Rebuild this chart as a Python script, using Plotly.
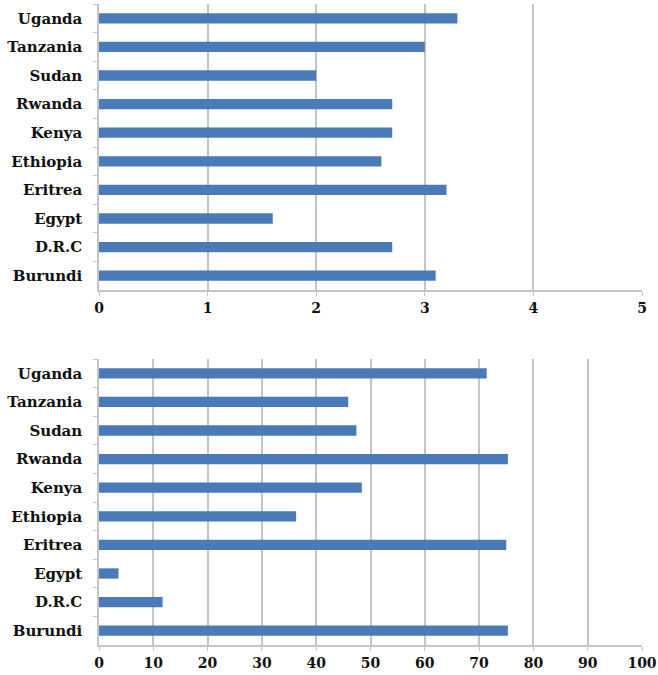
import plotly.graph_objects as go
from plotly.subplots import make_subplots

countries = ["Uganda", "Tanzania", "Sudan", "Rwanda", "Kenya",
             "Ethiopia", "Eritrea", "Egypt", "D.R.C", "Burundi"]
score_values = [3.3, 3.0, 2.0, 2.7, 2.7, 2.6, 3.2, 1.6, 2.7, 3.1]
percent_values = [71.4, 45.9, 47.4, 75.3, 48.4, 36.3, 75.0, 3.6, 11.7, 75.3]
score_ticks = [0, 1, 2, 3, 4, 5]
percent_ticks = [0, 10, 20, 30, 40, 50, 60, 70, 80, 90, 100]

W, H = 658, 675
BAR = "#4a7ab8"
GRID = "#c4c4c4"
SERIF = "DejaVu Serif"
LABELFONT = dict(family=SERIF, size=15, color="#111111", weight="bold")
TICKFONT = dict(family=SERIF, size=14, color="#111111", weight="bold")

fig = make_subplots(rows=2, cols=1)

fig.add_trace(go.Bar(x=score_values, y=countries, orientation="h",
                     marker=dict(color=BAR, line=dict(width=0))), row=1, col=1)
fig.add_trace(go.Bar(x=percent_values, y=countries, orientation="h",
                     marker=dict(color=BAR, line=dict(width=0))), row=2, col=1)

x_dom = [99 / W, 642 / W]
common_x = dict(showgrid=True, gridcolor=GRID, gridwidth=1.5,
                showline=True, linecolor=GRID, linewidth=1.5,
                ticks="outside", ticklen=4, tickcolor=GRID,
                zeroline=False, automargin=False, tickfont=TICKFONT)
common_y = dict(autorange="reversed", showline=True, linecolor=GRID, linewidth=1.5,
                ticks="outside", ticklen=4, tickcolor=GRID, tickson="boundaries",
                ticklabelstandoff=12, automargin=False, tickfont=LABELFONT)

fig.update_layout(
    width=W, height=H,
    margin=dict(l=0, r=0, t=0, b=0, autoexpand=False),
    paper_bgcolor="white", plot_bgcolor="white",
    showlegend=False,
    bargap=0.64,
    font=dict(family=SERIF, size=14, color="#111111"),
    xaxis=dict(domain=x_dom, range=[0, 5], tickvals=score_ticks, **common_x),
    yaxis=dict(domain=[1 - 290 / H, 1 - 4 / H], **common_y),
    xaxis2=dict(domain=x_dom, range=[0, 100], tickvals=percent_ticks, **common_x),
    yaxis2=dict(domain=[1 - 645 / H, 1 - 359 / H], **common_y),
)

fig.write_html("out.html")
